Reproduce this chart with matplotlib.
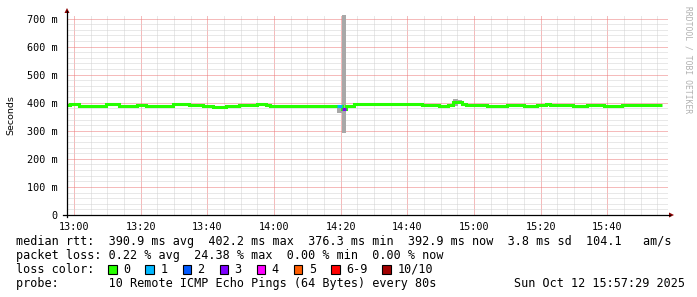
import matplotlib
matplotlib.use("Agg")
import matplotlib.pyplot as plt
from matplotlib.patches import Rectangle, Polygon
from matplotlib.lines import Line2D
import numpy as np

W, H = 697, 297

# ---------------- data (minutes after 13:00, milliseconds) ----------------
seg_edges_min = [-2.1, -1.2, 1.5, 3.0, 4.0, 9.5, 13.5, 14.8, 18.8, 21.6, 24.3,
                 29.6, 34.6, 38.8, 41.8, 45.6, 49.6, 55.0, 57.6, 58.8, 75.0,
                 78.8, 80.3, 81.6, 84.0, 99.0, 104.5, 109.6, 112.3, 113.8,
                 116.3, 117.6, 124.0, 129.8, 135.0, 139.0, 141.6, 142.8, 149.8,
                 153.8, 159.1, 164.5, 176.5]
median_ms = [391, 394, 390, 389, 387, 394, 390, 387, 393, 390, 387,
             397, 393, 387, 386, 388, 391, 396, 393, 388, 387,
             387, 377, 387, 395, 397, 392, 390, 393, 401,
             395, 393, 387, 391, 387, 391, 395, 391, 388,
             391, 389, 393]
loss_count = [0] * 21 + [1, 3] + [0] * 19

smoke_start_min = [78.8, 80.3, 113.8, 115.1]
smoke_end_min = [80.3, 81.6, 115.1, 116.3]
smoke_low_ms = [364, 293, 390, 396]
smoke_high_ms = [392, 720, 412, 410]

x_tick_min = [0, 20, 40, 60, 80, 100, 120, 140, 160]
x_tick_labels = ["13:00", "13:20", "13:40", "14:00", "14:20", "14:40",
                 "15:00", "15:20", "15:40"]
y_ticks_ms = [0, 100, 200, 300, 400, 500, 600, 700]
y_tick_labels = ["0", "100 m", "200 m", "300 m", "400 m", "500 m", "600 m", "700 m"]

loss_labels = ["0", "1", "2", "3", "4", "5", "6-9", "10/10"]
loss_colors = ["#26ff00", "#00b8ff", "#0059ff", "#7e00ff", "#ff00ff",
               "#ff5e00", "#ff0000", "#a10000"]

rtt_stats = ["390.9", "402.2", "376.3", "392.9", "3.8", "104.1"]
loss_stats = ["0.22", "24.38", "0.00", "0.00"]
probe_text = "10 Remote ICMP Echo Pings (64 Bytes) every 80s"
date_text = "Sun Oct 12 15:57:29 2025"

# ---------------- helpers ----------------
def fx(px):
    return px / W

def fy(py):
    return 1 - py / H

MONO = "DejaVu Sans Mono"

fig = plt.figure(figsize=(W / 100, H / 100), dpi=100, facecolor="white")
left, right, top, bottom = 67, 668, 15, 215
ax = fig.add_axes([fx(left), fy(bottom), fx(right - left), (bottom - top) / H])
ax.set_facecolor("white")
ax.set_xlim(-2.1, 178.2)
ax.set_ylim(0, 712.5)

for s in ax.spines.values():
    s.set_visible(False)

# grid
ax.set_xticks(x_tick_min)
ax.set_xticklabels(x_tick_labels, fontfamily=MONO, fontsize=7.3)
ax.set_yticks(y_ticks_ms)
ax.set_yticklabels(y_tick_labels, fontfamily=MONO, fontsize=7.3)
ax.set_xticks([m for m in range(0, 180, 5) if m % 20 != 0], minor=True)
ax.set_yticks([v for v in range(0, 712, 20) if v % 100 != 0], minor=True)
ax.tick_params(which="both", length=0)
ax.tick_params(axis="x", pad=5)
ax.tick_params(axis="y", pad=7)
ax.grid(which="minor", color="#d2d2d2", linestyle=(0, (1, 1)), linewidth=0.72)
ax.grid(which="major", color="#ec7878", linestyle=(0, (1, 1)), linewidth=0.72)
ax.set_axisbelow(True)

# smoke
sw = np.array(smoke_end_min) - np.array(smoke_start_min)
sh = np.array(smoke_high_ms) - np.array(smoke_low_ms)
ax.bar(smoke_start_min, sh, width=sw, bottom=smoke_low_ms, align="edge",
       color="#a8a8a8", linewidth=0, zorder=2)

# median line
ax.stairs(median_ms, seg_edges_min, baseline=None, color=loss_colors[0],
          linewidth=2.2, zorder=3)
def loss_idx(n):
    if n <= 5:
        return n
    if n < 10:
        return 6
    return 7
for i, n in enumerate(loss_count):
    if n > 0:
        ax.hlines(median_ms[i], seg_edges_min[i], seg_edges_min[i + 1],
                  color=loss_colors[loss_idx(n)], linewidth=2.2, zorder=4)

# axes lines + arrows
ax_col = "#000000"
arr_col = "#8b0000"
fig.add_artist(Line2D([fx(left), fx(left)], [fy(bottom + 2), fy(11)], color=ax_col, lw=0.9))
fig.add_artist(Line2D([fx(left - 4), fx(670)], [fy(bottom), fy(bottom)], color=ax_col, lw=0.9))
fig.add_artist(Polygon([[fx(left - 2.5), fy(13)], [fx(left + 2.5), fy(13)], [fx(left), fy(8)]],
                       closed=True, color=arr_col, lw=0))
fig.add_artist(Polygon([[fx(669), fy(bottom - 2.5)], [fx(669), fy(bottom + 2.5)], [fx(674), fy(bottom)]],
                       closed=True, color=arr_col, lw=0))

# y label
fig.text(fx(11), fy(115), "Seconds", rotation=90, ha="center", va="center",
         fontfamily="DejaVu Sans", fontsize=6.8, color="black")
# watermark
fig.text(fx(688), fy(60), "RRDTOOL / TOBI OETIKER", rotation=270, ha="center", va="center",
         fontfamily=MONO, fontsize=5.8, color="#b0b0b0")

# legend rows
LF = 8.5
row1 = ("median rtt:  {} ms avg  {} ms max  {} ms min  {} ms now  {} ms sd  {}   am/s"
        .format(*rtt_stats))
row2 = "packet loss: {} % avg  {} % max  {} % min  {} % now".format(*loss_stats)
fig.text(fx(16), fy(241.5), row1, fontfamily=MONO, fontsize=LF, va="center", ha="left")
fig.text(fx(16), fy(255.5), row2, fontfamily=MONO, fontsize=LF, va="center", ha="left")
fig.text(fx(16), fy(269.5), "loss color:", fontfamily=MONO, fontsize=LF, va="center", ha="left")
fig.text(fx(16), fy(283.5), "probe:       " + probe_text, fontfamily=MONO, fontsize=LF,
         va="center", ha="left")
fig.text(fx(513.5), fy(283.5), date_text, fontfamily=MONO, fontsize=LF, va="center", ha="left")

bx = 108.3
for lab, col in zip(loss_labels, loss_colors):
    fig.add_artist(Rectangle((fx(bx), fy(273.5)), 8.5 / W, 8.5 / H, facecolor=col,
                             edgecolor="black", lw=0.8))
    fig.text(fx(bx + 15), fy(269.5), lab, fontfamily=MONO, fontsize=LF, va="center", ha="left")
    bx += 30 + len(lab) * 7.12

fig.savefig("out.png", dpi=100, facecolor="white")
